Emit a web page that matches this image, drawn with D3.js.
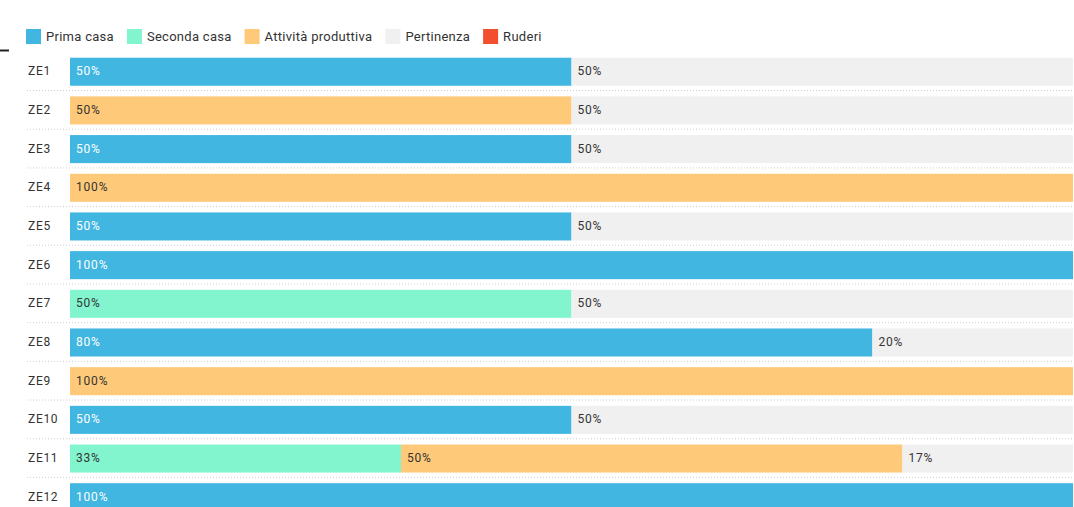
<!DOCTYPE html>
<html>
<head>
<meta charset="utf-8">
<script src="https://cdn.jsdelivr.net/npm/d3@7"></script>
<style>
  html, body { margin: 0; padding: 0; background: #fff; overflow: hidden; }
  svg { display: block; font-family: Roboto, "Noto Sans", sans-serif; }
</style>
</head>
<body>
<svg id="chart" width="1074" height="507"></svg>
<script>
// Zones (rows)
const zones = ["ZE1","ZE2","ZE3","ZE4","ZE5","ZE6","ZE7","ZE8","ZE9","ZE10","ZE11","ZE12"];

// Share of buildings per use, in percent
const primaCasa       = [50, 0, 50, 0, 50, 100, 0, 80, 0, 50, 0, 100];
const secondaCasa     = [0, 0, 0, 0, 0, 0, 50, 0, 0, 0, 33, 0];
const attivita        = [0, 50, 0, 100, 0, 0, 0, 0, 100, 0, 50, 0];
const pertinenza      = [50, 50, 50, 0, 50, 0, 50, 20, 0, 50, 17, 0];
const ruderi          = [0, 0, 0, 0, 0, 0, 0, 0, 0, 0, 0, 0];

const seriesNames  = ["Prima casa", "Seconda casa", "Attività produttiva", "Pertinenza", "Ruderi"];
const seriesValues = [primaCasa, secondaCasa, attivita, pertinenza, ruderi];
const seriesColors = ["#41b6e1", "#82f5cf", "#fec978", "#f0f0f0", "#f24f2e"];
const labelColors  = ["#ffffff", "#333333", "#333333", "#333333", "#ffffff"];

const svg = d3.select("#chart");

// Scales
const x = d3.scaleLinear().domain([0, 100]).range([70, 1073]);
const step = 38.68;
const y = d3.scaleBand()
  .domain(zones)
  .range([52.4, 52.4 + step * zones.length])
  .paddingInner(0.275)
  .paddingOuter(0.1375);

// Stack the series
const rows = zones.map((z, i) => {
  const r = { zone: z };
  seriesNames.forEach((s, k) => { r[s] = seriesValues[k][i]; });
  return r;
});
const stacked = d3.stack().keys(seriesNames)(rows);

// Row separators
const sepY = zones.slice(0, -1).map(z => y(z) + y.bandwidth() + (y.step() - y.bandwidth()) / 2);
svg.append("g").selectAll("line").data(sepY).join("line")
  .attr("x1", 27).attr("x2", 1074)
  .attr("y1", d => d - 0.5).attr("y2", d => d - 0.5)
  .attr("stroke", "#cfcfcf")
  .attr("stroke-width", 1)
  .attr("stroke-dasharray", "1,2");

// Bars
const layers = svg.append("g").selectAll("g").data(stacked).join("g")
  .attr("fill", (d, k) => seriesColors[k]);

layers.selectAll("rect").data(d => d).join("rect")
  .attr("x", d => x(d[0]))
  .attr("y", d => y(d.data.zone))
  .attr("width", d => Math.max(0, x(d[1]) - x(d[0])))
  .attr("height", y.bandwidth());

// Value labels inside segments
stacked.forEach((layer, k) => {
  svg.append("g").selectAll("text")
    .data(layer.filter(d => d[1] - d[0] > 0))
    .join("text")
    .attr("x", d => x(d[0]) + 6)
    .attr("y", d => y(d.data.zone) + y.bandwidth() / 2)
    .attr("dy", "0.3em")
    .attr("font-size", 12)
    .attr("letter-spacing", 0.8)
    .attr("fill", labelColors[k])
    .text(d => Math.round(d[1] - d[0]) + "%");
});

// Zone labels
svg.append("g").selectAll("text").data(zones).join("text")
  .attr("x", 28)
  .attr("y", d => y(d) + y.bandwidth() / 2)
  .attr("dy", "0.3em")
  .attr("font-size", 12)
  .attr("letter-spacing", 0.7)
  .attr("fill", "#333")
  .text(d => d);

// Legend
const legend = svg.append("g").attr("transform", "translate(26,29)");
let lx = 0;
seriesNames.forEach((name, k) => {
  const g = legend.append("g").attr("transform", `translate(${lx},0)`);
  g.append("rect").attr("width", 15).attr("height", 15).attr("fill", seriesColors[k]);
  const t = g.append("text")
    .attr("x", 20).attr("y", 7.5).attr("dy", "0.35em")
    .attr("font-size", 13).attr("letter-spacing", 0.28).attr("fill", "#333")
    .text(name);
  lx += 20 + t.node().getComputedTextLength() + 13;
});

// Short mark at top-left
svg.append("line")
  .attr("x1", 0).attr("x2", 9)
  .attr("y1", 50.5).attr("y2", 50.5)
  .attr("stroke", "#222").attr("stroke-width", 2);
</script>
</body>
</html>
